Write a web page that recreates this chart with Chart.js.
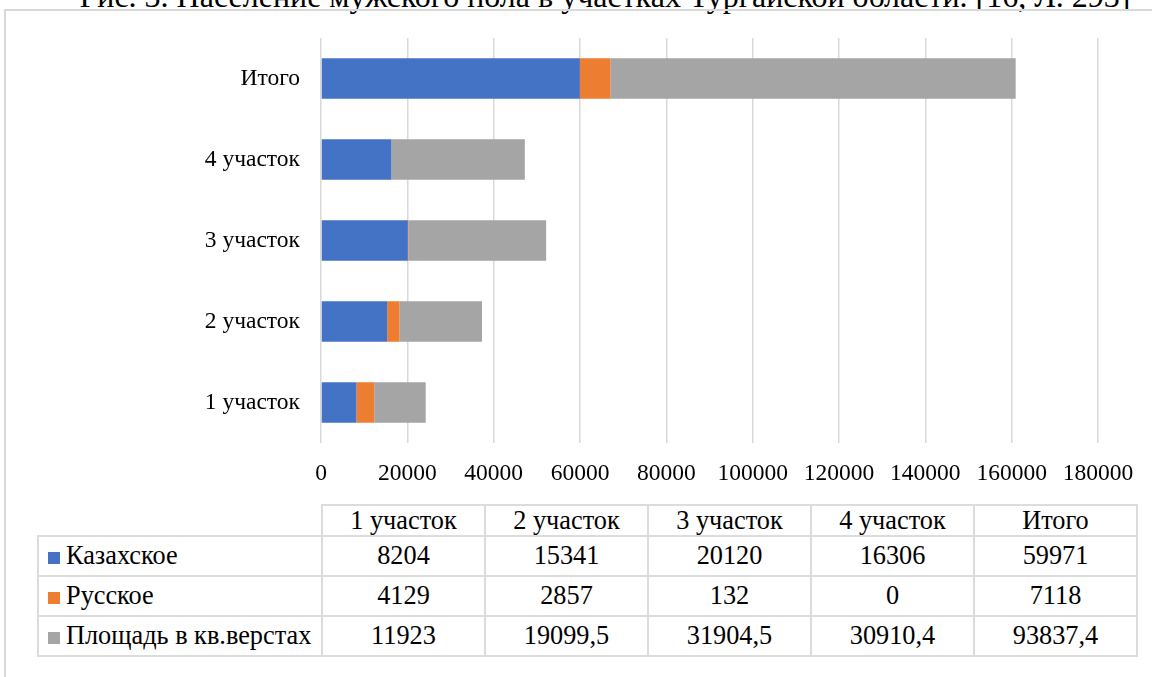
<!DOCTYPE html>
<html>
<head>
<meta charset="utf-8">
<script src="https://cdn.jsdelivr.net/npm/chart.js@4.4.0/dist/chart.umd.min.js"></script>
<style>
    body { margin: 0; width: 1152px; height: 677px; overflow: hidden; background: #fff;
           font-family: 'Liberation Serif', 'Times New Roman', serif; color: #000; }
    #title { position: absolute; left: 0; width: 1210px; top: -20px; line-height: 32px;
             text-align: center; font-size: 32px; white-space: nowrap; }
    #frame { position: absolute; left: 4px; top: 9px; width: 1200px; height: 720px;
             border: 2px solid #d9d9d9; }
    #wrap { position: absolute; left: 0; top: 0; width: 1152px; height: 500px; }
    #data-table { position: absolute; left: 37px; top: 504px; border-collapse: collapse;
                  font-family: 'Liberation Serif', serif; font-size: 26.3px; }
    #data-table td { border: 2px solid #dcdcdc; text-align: center; padding: 0; width: 161px; }
    #data-table tr.head td { height: 29px; line-height: 29px; }
    #data-table tr.row td { height: 38px; }
    #data-table td.name { text-align: left; width: 282px; white-space: nowrap; }
    #data-table td.blank { border-top: none; border-left: none; }
    .key { display: inline-block; width: 12px; height: 12px; margin: 0 6px 0 9px; }
</style>
</head>
<body>
<div id="title">Рис. 3. Население мужского пола в участках Тургайской области. [16, Л. 293]</div>
<div id="frame"></div>
<div id="wrap"><canvas id="chart"></canvas></div>
<table id="data-table"></table>

<script>
// Data
const categories = ['1 участок', '2 участок', '3 участок', '4 участок', 'Итого'];
const kazakh = [8204, 15341, 20120, 16306, 59971];
const russian = [4129, 2857, 132, 0, 7118];
const area = [11923, 19099.5, 31904.5, 30910.4, 93837.4];
const seriesNames = ['Казахское', 'Русское', 'Площадь в кв.верстах'];
const seriesColors = ['#4472C4', '#ED7D31', '#A5A5A5'];
const xMin = 0, xMax = 180000, xStep = 20000;

const allSeries = [kazakh, russian, area];

// Chart (Excel draws the last category at the top, so reverse)
function buildChart() {
    const ctx = document.getElementById('chart').getContext('2d');
    new Chart(ctx, {
        type: 'bar',
        data: {
            labels: categories.slice().reverse(),
            datasets: allSeries.map((values, i) => ({
                label: seriesNames[i],
                data: values.slice().reverse(),
                backgroundColor: seriesColors[i],
                borderWidth: 0,
                barPercentage: 1,
                categoryPercentage: 0.5
            }))
        },
        options: {
            indexAxis: 'y',
            responsive: true,
            maintainAspectRatio: false,
            animation: false,
            layout: { padding: { top: 38, right: 54, left: 0, bottom: 0 } },
            plugins: {
                legend: { display: false },
                tooltip: { enabled: false }
            },
            scales: {
                x: {
                    stacked: true,
                    min: xMin,
                    max: xMax,
                    ticks: {
                        stepSize: xStep,
                        padding: 17,
                        color: '#000',
                        font: { family: "'Liberation Serif', serif", size: 23.5 },
                        maxRotation: 0,
                        callback: v => String(v)
                    },
                    grid: { color: '#d9d9d9', lineWidth: 1.5, drawTicks: false },
                    border: { display: false },
                    afterFit: scale => { scale.height = 57; }
                },
                y: {
                    stacked: true,
                    ticks: {
                        padding: 21,
                        color: '#000',
                        font: { family: "'Liberation Serif', serif", size: 23.5 }
                    },
                    grid: { display: false, drawTicks: false },
                    border: { display: false },
                    afterFit: scale => { scale.width = 321; }
                }
            }
        }
    });
}

// Data table under the chart
function fmt(v) {
    return String(v).replace('.', ',');
}

function buildTable() {
    const table = document.getElementById('data-table');
    let html = '<tr class="head"><td class="name blank"></td>';
    categories.forEach(c => { html += `<td>${c}</td>`; });
    html += '</tr>';
    allSeries.forEach((values, i) => {
        html += `<tr class="row"><td class="name"><span class="key" style="background:${seriesColors[i]}"></span>${seriesNames[i]}</td>`;
        values.forEach(v => { html += `<td>${fmt(v)}</td>`; });
        html += '</tr>';
    });
    table.innerHTML = html;
}

buildChart();
buildTable();
</script>
</body>
</html>
